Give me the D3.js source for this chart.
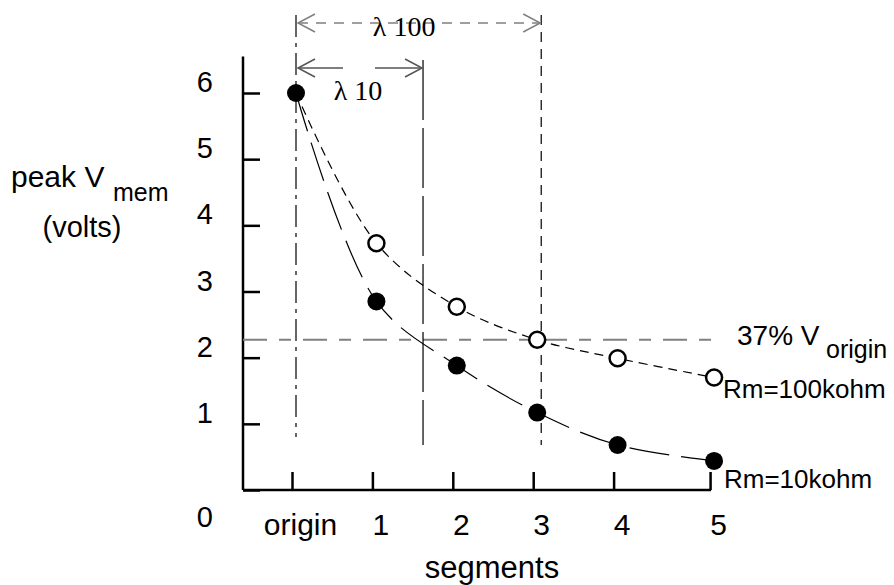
<!DOCTYPE html>
<html>
<head>
<meta charset="utf-8">
<script src="https://cdn.jsdelivr.net/npm/d3@7"></script>
<style>
	body { margin: 0; background: #fff; }
	text { font-family: "Liberation Sans", Arial, sans-serif; fill: #000; }
</style>
</head>
<body>
<div id="chart"></div>
<script>
// data
const segments = ['origin', '1', '2', '3', '4', '5']
const segmentPos = [0, 1, 2, 3, 4, 5.2]
const rm10 = [6.0, 2.85, 1.88, 1.17, 0.68, 0.44]
const rm100 = [6.0, 3.73, 2.77, 2.27, 1.99, 1.70]
const yTicks = [0, 1, 2, 3, 4, 5, 6]
const threshold = 2.27
const lambda10 = 1.58
const lambda100 = 3.05

const svg = d3.select('#chart')
	.append('svg')
	.attr('width', 894)
	.attr('height', 585)

const x = d3.scaleLinear().domain([0, 5]).range([292, 694])
const y = d3.scaleLinear().domain([0, 6]).range([490, 93])
const dx = 4 // the marks sit a bit right of the ticks
const axisX = 243

// axes
svg.append('line')
	.attr('x1', axisX).attr('x2', axisX)
	.attr('y1', y(6.55)).attr('y2', y(0))
	.attr('stroke', '#000').attr('stroke-width', 2.5)

svg.append('line')
	.attr('x1', axisX).attr('x2', x(5.2) + 1)
	.attr('y1', y(0)).attr('y2', y(0))
	.attr('stroke', '#000').attr('stroke-width', 2.5)

svg.append('g')
	.attr('transform', `translate(${axisX},0)`)
	.call(d3.axisLeft(y).tickValues(yTicks).tickSize(-17).tickPadding(30).tickFormat(d3.format('d')))
	.call(g => g.select('.domain').remove())
	.call(g => g.selectAll('.tick line').attr('stroke', '#000').attr('stroke-width', 2.5))
	.call(g => g.selectAll('.tick text')
		.attr('font-size', 29)
		.attr('font-family', '"Liberation Sans", Arial, sans-serif')
		.attr('dy', d => d === 0 ? '1.25em' : '-0.05em'))

svg.append('g')
	.attr('transform', `translate(0,${y(0)})`)
	.call(d3.axisBottom(x).tickValues(segmentPos).tickSize(-18).tickPadding(45)
		.tickFormat((d, i) => segments[i]))
	.call(g => g.select('.domain').remove())
	.call(g => g.selectAll('.tick line').attr('stroke', '#000').attr('stroke-width', 2.5))
	.call(g => g.selectAll('.tick text')
		.attr('font-size', 30)
		.attr('font-family', '"Liberation Sans", Arial, sans-serif')
		.attr('dy', 0)
		.attr('dx', 8))

// reference lines
svg.append('line')
	.attr('x1', axisX).attr('x2', 720)
	.attr('y1', y(threshold)).attr('y2', y(threshold))
	.attr('stroke', '#808080').attr('stroke-width', 2)
	.attr('stroke-dasharray', '24,12,12,12')

const vLines = [
	{ pos: 0, top: 15, bottom: 437, dash: '22,6,4,6' },
	{ pos: lambda10, top: 60, bottom: 445, dash: '60,8' },
	{ pos: lambda100, top: 15, bottom: 445, dash: '10,7' }
]
svg.selectAll('line.vref')
	.data(vLines)
	.enter()
	.append('line')
	.attr('class', 'vref')
	.attr('x1', d => x(d.pos) + dx).attr('x2', d => x(d.pos) + dx)
	.attr('y1', d => d.top).attr('y2', d => d.bottom)
	.attr('stroke', '#000').attr('stroke-width', 1.2)
	.attr('stroke-dasharray', d => d.dash)

// lambda arrows
const arrows = [
	{ to: lambda100, ay: 23, color: '#808080', dash: '10,8', label: 'λ 100', lx: -15, ly: 36 },
	{ to: lambda10, ay: 68, color: '#555', dash: '45,32', label: 'λ 10', lx: -2, ly: 100 }
]
arrows.forEach(a => {
	const x0 = x(0) + dx + 2
	const x1 = x(a.to) + dx - 1
	svg.append('line')
		.attr('x1', x0).attr('x2', x1)
		.attr('y1', a.ay).attr('y2', a.ay)
		.attr('stroke', a.color).attr('stroke-width', 1.5)
		.attr('stroke-dasharray', a.dash)
	svg.append('path')
		.attr('d', `M${x0 + 17},${a.ay - 9}L${x0},${a.ay}L${x0 + 17},${a.ay + 9}`)
		.attr('fill', 'none').attr('stroke', a.color).attr('stroke-width', 1.5)
	svg.append('path')
		.attr('d', `M${x1 - 17},${a.ay - 9}L${x1},${a.ay}L${x1 - 17},${a.ay + 9}`)
		.attr('fill', 'none').attr('stroke', a.color).attr('stroke-width', 1.5)
	svg.append('text')
		.attr('x', (x0 + x1) / 2 + a.lx)
		.attr('y', a.ly)
		.attr('text-anchor', 'middle')
		.style('font-family', '"Liberation Serif", "Times New Roman", serif')
		.attr('font-size', 28)
		.text(a.label)
})

// curves
const line = d3.line()
	.x((d, i) => x(segmentPos[i]) + dx)
	.y(d => y(d))
	.curve(d3.curveCatmullRom)

svg.append('path')
	.datum(rm10)
	.attr('d', line)
	.attr('fill', 'none').attr('stroke', '#000').attr('stroke-width', 1.2)
	.attr('stroke-dasharray', '40,12')

svg.append('path')
	.datum(rm100)
	.attr('d', line)
	.attr('fill', 'none').attr('stroke', '#000').attr('stroke-width', 1.2)
	.attr('stroke-dasharray', '9,6')

// points
svg.selectAll('circle.open')
	.data(rm100.slice(1))
	.enter()
	.append('circle')
	.attr('class', 'open')
	.attr('cx', (d, i) => x(segmentPos[i + 1]) + dx)
	.attr('cy', d => y(d))
	.attr('r', 8)
	.attr('fill', '#fff').attr('stroke', '#000').attr('stroke-width', 2.5)

svg.selectAll('circle.filled')
	.data(rm10)
	.enter()
	.append('circle')
	.attr('class', 'filled')
	.attr('cx', (d, i) => x(segmentPos[i]) + dx)
	.attr('cy', d => y(d))
	.attr('r', 9)
	.attr('fill', '#000')

// labels
const label = (tx, ty, str, size, anchor) => svg.append('text')
	.attr('x', tx).attr('y', ty)
	.attr('font-size', size)
	.attr('text-anchor', anchor || 'start')
	.text(str)

label(11, 187, 'peak V', 30)
label(113, 201, 'mem', 25)
label(82, 237, '(volts)', 29, 'middle')
label(737, 345, '37% V', 28)
label(826, 358, 'origin', 25)
label(723, 398, 'Rm=100kohm', 26)
label(724, 488, 'Rm=10kohm', 26)
label(492, 578, 'segments', 31, 'middle')
</script>
</body>
</html>
